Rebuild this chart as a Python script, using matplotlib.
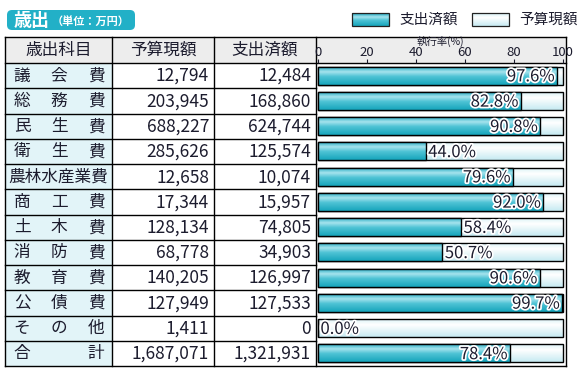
import numpy as np
import matplotlib.pyplot as plt
import matplotlib.patheffects as pe
from matplotlib.colors import LinearSegmentedColormap
from matplotlib.patches import Rectangle, FancyBboxPatch

plt.rcParams['font.family'] = ['Noto Sans CJK JP', 'DejaVu Sans']

# --- data ---
items = ['議会費', '総務費', '民生費', '衛生費', '農林水産業費', '商工費',
         '土木費', '消防費', '教育費', '公債費', 'その他', '合計']
budget = [12794, 203945, 688227, 285626, 12658, 17344,
          128134, 68778, 140205, 127949, 1411, 1687071]
spent = [12484, 168860, 624744, 125574, 10074, 15957,
         74805, 34903, 126997, 127533, 0, 1321931]
ticks = [0, 20, 40, 60, 80, 100]
headers = ['歳出科目', '予算現額', '支出済額']

rate = [100.0 * s / b for s, b in zip(spent, budget)]
full = [100.0 * b / b for b in budget]

W, H = 580, 370
col_x = [5, 112, 214, 316, 566]
top, head_bot, bottom = 37, 63, 366
n = len(items)
row_h = (bottom - head_bot) / n

cyan = LinearSegmentedColormap.from_list(
    'cy', [(0, '#13a3bb'), (0.3, '#a6e4ee'), (0.55, '#4fc3d5'), (1, '#16a5bc')])
pale = LinearSegmentedColormap.from_list(
    'pl', [(0, '#d6f1f6'), (0.35, '#ffffff'), (1, '#c6eaf2')])
text_col = '#1c1c2e'


def gradient(a, x0, y0, w, h, cmap, clip, z=2):
    grad = np.linspace(0, 1, 64).reshape(-1, 1)
    im = a.imshow(grad, cmap=cmap, aspect='auto', origin='upper',
                  extent=(x0, x0 + w, y0 + h, y0), zorder=z, interpolation='bilinear')
    im.set_clip_path(clip)


fig = plt.figure(figsize=(W / 100, H / 100), dpi=100)
ax = fig.add_axes([0, 0, 1, 1])
ax.set_xlim(0, W)
ax.set_ylim(H, 0)
ax.axis('off')

# title badge
ax.add_patch(FancyBboxPatch((7, 10), 128, 20, boxstyle='round,pad=0,rounding_size=5',
                            fc='#22b0c7', ec='none'))
ax.text(14, 20.5, '歳出', color='white', fontsize=13, fontweight='bold', va='center')
ax.text(52, 21.5, '（単位：万円）', color='white', fontsize=8, fontweight='bold', va='center')

# legend
for lx, lab, cm in [(352, '支出済額', cyan), (472, '予算現額', pale)]:
    r = Rectangle((lx, 13), 37, 13, fc='none', ec='#222222', lw=0.9, zorder=3)
    ax.add_patch(r)
    gradient(ax, lx, 13, 37, 13, cm, r)
    ax.text(lx + 47, 19.5, lab, fontsize=10.5, va='center', color=text_col)
ax.set_xlim(0, W)
ax.set_ylim(H, 0)

# header background and label column background
ax.add_patch(Rectangle((col_x[0], top), col_x[4] - col_x[0], head_bot - top,
                       fc='#ededed', ec='none', zorder=0))
ax.add_patch(Rectangle((col_x[0], head_bot), col_x[1] - col_x[0], bottom - head_bot,
                       fc='#e2f4f8', ec='none', zorder=0))

for i, h in enumerate(headers):
    ax.text((col_x[i] + col_x[i + 1]) / 2, (top + head_bot) / 2 + 0.5, h,
            fontsize=12, ha='center', va='center', color=text_col)
ax.text(440, 41.5, '執行率(%)', fontsize=7.5, ha='center', va='center', color=text_col)

# rows
for i, name in enumerate(items):
    yc = head_bot + (i + 0.5) * row_h + 0.5
    if len(name) == 3:
        for k, ch in enumerate(name):
            ax.text(22 + k * 37, yc, ch, fontsize=12, ha='center', va='center', color=text_col)
    elif name == '合計':
        ax.text(22, yc, name[0], fontsize=12, ha='center', va='center', color=text_col)
        ax.text(96, yc, name[1], fontsize=12, ha='center', va='center', color=text_col)
    else:
        ax.text(58.5, yc, name, fontsize=12, ha='center', va='center', color=text_col)
    ax.text(col_x[2] - 5, yc, f'{budget[i]:,}', fontsize=12.5, ha='right', va='center', color=text_col)
    ax.text(col_x[3] - 5, yc, f'{spent[i]:,}', fontsize=12.5, ha='right', va='center', color=text_col)

# grid lines
lw = 1.0
for y in [top, head_bot, bottom]:
    ax.plot([col_x[0], col_x[4]], [y, y], color='black', lw=lw, zorder=1)
for i in range(1, n):
    y = head_bot + i * row_h
    ax.plot([col_x[0], col_x[3]], [y, y], color='black', lw=lw, zorder=1)
for x in col_x:
    ax.plot([x, x], [top, bottom], color='black', lw=lw, zorder=1)

# chart axes
cax = fig.add_axes([col_x[3] / W, 1 - bottom / H, (col_x[4] - col_x[3]) / W, (bottom - head_bot) / H])
cax.set_facecolor('none')
ypos = np.arange(n)
bars_full = cax.barh(ypos, full, height=0.72, color='none', edgecolor='black', lw=1.0, zorder=3)
bars_rate = cax.barh(ypos, rate, height=0.72, color='none', edgecolor='black', lw=1.0, zorder=4)
for p in bars_full:
    gradient(cax, p.get_x(), p.get_y(), p.get_width(), p.get_height(), pale, p)
for p in bars_rate:
    if p.get_width() > 0:
        gradient(cax, p.get_x(), p.get_y(), p.get_width(), p.get_height(), cyan, p, z=3.5)

for i, r in enumerate(rate):
    lab = f'{r:.1f}%'
    if r > 70:
        x, ha = r - 1, 'right'
    else:
        x, ha = r + 1, 'left'
    cax.text(x, i + 0.05, lab, fontsize=12, ha=ha, va='center', color=text_col, zorder=6,
             path_effects=[pe.withStroke(linewidth=2.5, foreground='white')])

cax.set_xlim(-0.82, 101.2)
cax.set_ylim(n - 0.5, -0.5)
cax.set_xticks(ticks)
cax.set_yticks([])
cax.tick_params(axis='x', top=True, labeltop=True, bottom=False, labelbottom=False,
                length=3, width=0.8, pad=0, labelsize=9.5, colors=text_col)
for s in cax.spines.values():
    s.set_visible(False)

fig.savefig('out.png', dpi=100)
